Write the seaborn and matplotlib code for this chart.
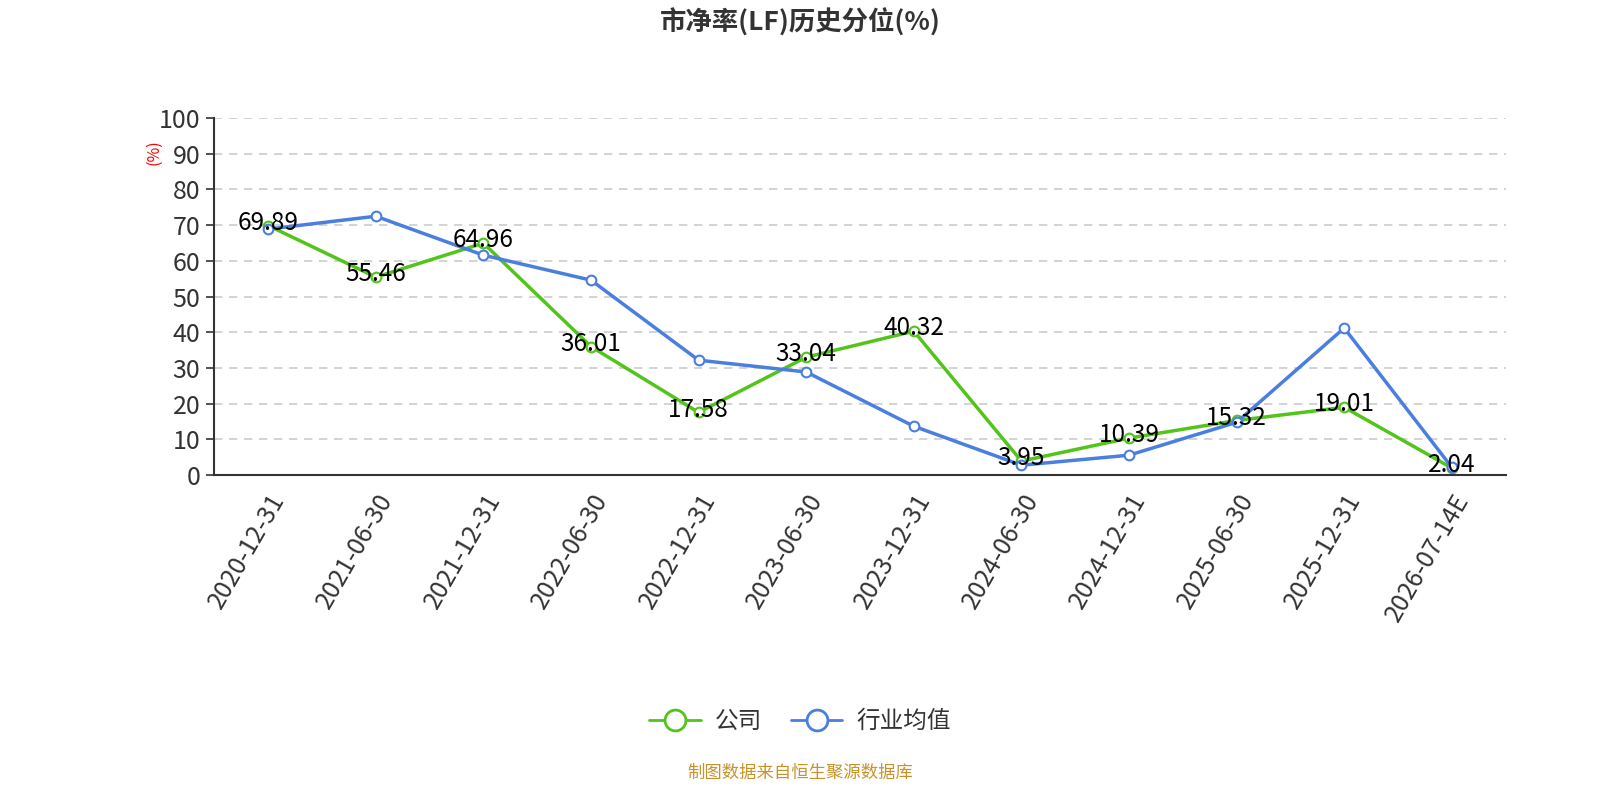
import pandas as pd
import matplotlib
matplotlib.use('Agg')
import matplotlib.pyplot as plt
import seaborn as sns

# 数据
dates = ['2020-12-31', '2021-06-30', '2021-12-31', '2022-06-30', '2022-12-31', '2023-06-30',
         '2023-12-31', '2024-06-30', '2024-12-31', '2025-06-30', '2025-12-31', '2026-07-14E']
company = [69.89, 55.46, 64.96, 36.01, 17.58, 33.04, 40.32, 3.95, 10.39, 15.32, 19.01, 2.04]
industry = [68.9, 72.5, 61.6, 54.6, 32.2, 28.9, 13.7, 2.8, 5.6, 14.8, 41.2, 2.2]
series_names = ['公司', '行业均值']
colors = ['#52c41a', '#4a7fe0']

sns.set_theme(style='white')
plt.rcParams['font.family'] = ['Noto Sans CJK SC', 'DejaVu Sans']

xs = list(range(len(dates)))

fig = plt.figure(figsize=(16, 8), dpi=100)
ax = fig.add_axes([0.134, 0.406, 0.807, 0.4465])

for vals, name, c in zip([company, industry], series_names, colors):
    sns.lineplot(x=xs, y=vals, color=c, marker='o', markersize=7,
                 markerfacecolor='white', markeredgecolor=c, markeredgewidth=1.5,
                 linewidth=2.5, ax=ax, label=name, legend=False)

# 数据标签
for i, v in enumerate(company):
    ax.text(i, v + 0.8, f'{v:.2f}', ha='center', va='center', fontsize=17.5,
            color='black', zorder=5)

ax.set_xlim(-0.5, len(dates) - 0.5)
ax.set_ylim(0, 100)
ax.set_yticks(range(0, 101, 10))
ax.set_xticks([i - 0.5 for i in range(len(dates) + 1)], minor=False)
ax.set_xticklabels([])
ax.set_xticks(xs, minor=True)
ax.set_xticklabels(dates, minor=True, rotation=60, ha='right', rotation_mode='anchor',
                   fontsize=18, color='#333333')
ax.tick_params(axis='x', which='minor', length=0, pad=10)
ax.tick_params(axis='x', which='major', length=6, width=1.2, color='#333333', direction='out')
ax.tick_params(axis='y', length=6, width=1.2, color='#333333', labelsize=18,
               labelcolor='#333333', left=True, direction='out', pad=4)
ax.set_xlabel('')
ax.set_ylabel('')

ax.grid(axis='y', linestyle=(0, (5, 4)), color='#cccccc', linewidth=1.2)
for s in ['top', 'right']:
    ax.spines[s].set_visible(False)
for s in ['left', 'bottom']:
    ax.spines[s].set_color('#333333')
    ax.spines[s].set_linewidth(1.5)

fig.text(0.096, 0.81, '(%)', color='red', rotation=90, fontsize=11.5, ha='center', va='center')
fig.text(0.5, 0.972, '市净率(LF)历史分位(%)', ha='center', va='center', fontsize=19,
         fontweight='bold', color='#333333')

# 图例
handles = [plt.Line2D([], [], color=c, linewidth=2, marker='o', markersize=15,
                      markerfacecolor='white', markeredgewidth=2) for c in colors]
fig.legend(handles, series_names, loc='center', bbox_to_anchor=(0.5, 0.098), ncol=2,
           frameon=False, fontsize=17, handlelength=2.2, columnspacing=1.2,
           handletextpad=0.6, labelcolor='#333333')

fig.text(0.5, 0.034, '制图数据来自恒生聚源数据库', ha='center', va='center',
         fontsize=12.5, color='#c8922a')

fig.savefig('out.png', dpi=100)
